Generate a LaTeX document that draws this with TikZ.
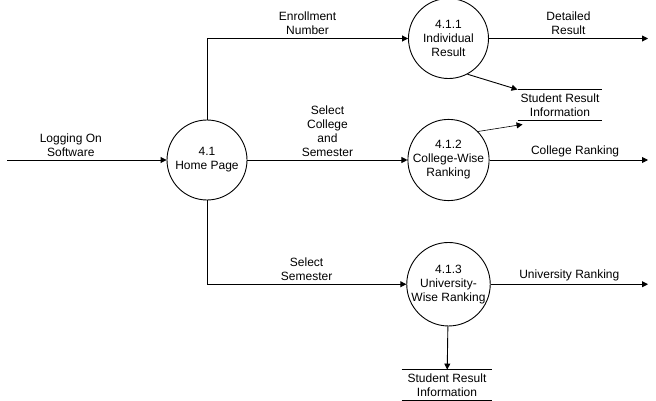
\documentclass[tikz,border=0pt]{standalone}
\usepackage{fontspec}
\setmainfont{Liberation Sans}
\usepackage{tikz}
\usetikzlibrary{positioning, arrows.meta, calc}

\begin{document}
\begin{tikzpicture}[ x = 1pt, y = -1pt
                     , align = center
                     , node distance = 40pt and 160pt
                     , font = \fontsize{12}{14}\selectfont
                     , line width = 0.9pt
                     , >={Triangle[width=0.6em, length=0.6em]}
                     , process/.style = { circle
                                        , draw = black
                                        , inner sep = 0pt
                                        , minimum size = 80pt }
                     , store/.style = { inner sep = 0pt
                                      , minimum height = 30pt }
                     , flow/.style = { inner sep = 3pt }
                     ]

  \useasboundingbox (0,0) rectangle (656,401);

  \node (home) [process] at (207,160) {4.1\\Home Page};
  \node (college) [process, right = of home] {4.1.2\\College-Wise\\Ranking};
  \node (individual) [process, above = of college] {4.1.1\\Individual\\Result};
  \node (university) [process, below = 41pt of college] {4.1.3\\University-\\Wise Ranking};

  \node (resultstore) [store, minimum width = 84pt] at (560,105) {Student Result\\Information};
  \node (rankstore) [store, minimum width = 90pt] at (447,385) {Student Result\\Information};

  \draw (resultstore.north west) -- (resultstore.north east);
  \draw (resultstore.south west) -- (resultstore.south east);
  \draw (rankstore.north west) -- (rankstore.north east);
  \draw (rankstore.south west) -- (rankstore.south east);

  \coordinate (login) at (7,160);
  \coordinate (border) at (648,0);

  \draw[->] (login)
  -- node [flow, above, pos = 0.4] {Logging On\\Software}
  (home);

  \draw[->] (home.north)
  |- node [flow, above, pos = 0.75] {Enrollment\\Number}
  (individual);

  \draw[->] (home)
  -- node [flow, above] {Select\\College\\and\\Semester}
  (college);

  \draw[->] (home.south)
  |- node [flow, above, pos = 0.75] {Select\\Semester}
  (university);

  \draw[->] (individual)
  -- node [flow, above] {Detailed\\Result}
  (border |- individual);

  \draw[->] (college)
  -- node [flow, above, pos = 0.54] {College Ranking}
  (border |- college);

  \draw[->] (university)
  -- node [flow, above] {University Ranking}
  (border |- university);

  \draw[->] (individual.-62) -- (resultstore.north west);
  \draw[->, line width = 0.6pt] (college.44) -- ($(resultstore.south west)+(5,4)$);
  \draw[->] (university) -- (rankstore);

\end{tikzpicture}
\end{document}
